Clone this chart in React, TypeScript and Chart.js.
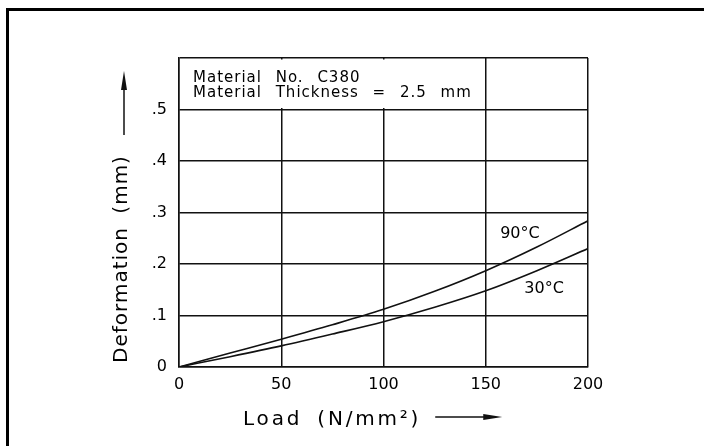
import React, { useEffect, useRef } from "react";
import { Chart, registerables } from "chart.js";

Chart.register(...registerables);

const loads = [0, 25, 50, 75, 100, 125, 150, 175, 200];
const deform90 = [0, 0.027, 0.054, 0.082, 0.112, 0.147, 0.187, 0.233, 0.284];
const deform30 = [0, 0.02, 0.041, 0.064, 0.088, 0.116, 0.148, 0.187, 0.23];
const seriesLabels = ["90°C", "30°C"];
const labelPos90 = { x: 166.7, y: 0.259 };
const labelPos30 = { x: 178.5, y: 0.151 };
const infoLines = ["Material No. C380", "Material Thickness = 2.5 mm"];
const infoBox = { x0: 0, x1: 150, y0: 0.5, y1: 0.6 };
const xTitle = "Load (N/mm²)";
const yTitle = "Deformation (mm)";

const FONT = "'DejaVu Sans', sans-serif";
const INK = "#111";

const overlay = {
  id: "overlay",
  beforeDatasetsDraw(chart: any) {
    const { ctx, scales } = chart;
    const x = scales.x, y = scales.y;
    const l = x.getPixelForValue(infoBox.x0);
    const r = x.getPixelForValue(infoBox.x1);
    const t = y.getPixelForValue(infoBox.y1);
    const b = y.getPixelForValue(infoBox.y0);
    ctx.save();
    ctx.fillStyle = "#fff";
    ctx.fillRect(l + 1.5, t + 1.5, r - l - 3, b - t - 3);
    ctx.fillStyle = "#000";
    ctx.font = `15px ${FONT}`;
    (ctx as any).letterSpacing = "1px";
    (ctx as any).wordSpacing = "8px";
    ctx.textAlign = "left";
    ctx.textBaseline = "alphabetic";
    ctx.fillText(infoLines[0], l + 14, t + 24);
    ctx.fillText(infoLines[1], l + 14, t + 39);
    ctx.restore();
  },
  afterDraw(chart: any) {
    const { ctx, scales, chartArea } = chart;
    const x = scales.x, y = scales.y;
    ctx.save();
    // outer frame
    ctx.strokeStyle = "#000";
    ctx.lineWidth = 3;
    ctx.strokeRect(7.5, 9.5, 760, 500);

    // series labels
    ctx.fillStyle = "#000";
    ctx.font = `16px ${FONT}`;
    ctx.textAlign = "center";
    ctx.textBaseline = "middle";
    ctx.fillText(seriesLabels[0], x.getPixelForValue(labelPos90.x), y.getPixelForValue(labelPos90.y));
    ctx.fillText(seriesLabels[1], x.getPixelForValue(labelPos30.x), y.getPixelForValue(labelPos30.y));

    // y title
    ctx.save();
    ctx.translate(chartArea.left - 57.5, chartArea.top + 201);
    ctx.rotate(-Math.PI / 2);
    ctx.font = `20px ${FONT}`;
    (ctx as any).letterSpacing = "1px";
    (ctx as any).wordSpacing = "6px";
    ctx.textAlign = "center";
    ctx.textBaseline = "middle";
    ctx.fillText(yTitle, 0, 0);
    ctx.restore();

    // y arrow
    const ax = chartArea.left - 55;
    ctx.strokeStyle = INK;
    ctx.fillStyle = INK;
    ctx.lineWidth = 1.5;
    ctx.beginPath();
    ctx.moveTo(ax, chartArea.top + 77);
    ctx.lineTo(ax, chartArea.top + 28);
    ctx.stroke();
    ctx.beginPath();
    ctx.moveTo(ax, chartArea.top + 13);
    ctx.lineTo(ax - 3, chartArea.top + 32);
    ctx.lineTo(ax + 3, chartArea.top + 32);
    ctx.closePath();
    ctx.fill();

    // x title
    ctx.fillStyle = "#000";
    ctx.font = `20px ${FONT}`;
    (ctx as any).letterSpacing = "2.8px";
    (ctx as any).wordSpacing = "6px";
    ctx.textAlign = "left";
    ctx.textBaseline = "alphabetic";
    const tx = chartArea.left + 64;
    const ty = chartArea.bottom + 58;
    ctx.fillText(xTitle, tx, ty);
    const w = ctx.measureText(xTitle).width;
    const ay = ty - 8;
    const a0 = tx + w + 14;
    ctx.fillStyle = INK;
    ctx.beginPath();
    ctx.moveTo(a0, ay);
    ctx.lineTo(a0 + 52, ay);
    ctx.stroke();
    ctx.beginPath();
    ctx.moveTo(a0 + 67, ay);
    ctx.lineTo(a0 + 48, ay - 3);
    ctx.lineTo(a0 + 48, ay + 3);
    ctx.closePath();
    ctx.fill();
    ctx.restore();
  },
};

export default function App() {
  const ref = useRef<HTMLCanvasElement | null>(null);
  useEffect(() => {
    if (!ref.current) return;
    const gridOpts = { color: INK, lineWidth: 1.5, drawTicks: false };
    const chart = new Chart(ref.current, {
      type: "line",
      data: {
        datasets: [
          {
            label: seriesLabels[0],
            data: loads.map((l, i) => ({ x: l, y: deform90[i] })),
            borderColor: INK,
            borderWidth: 1.6,
            pointRadius: 0,
            cubicInterpolationMode: "monotone",
            fill: false,
          },
          {
            label: seriesLabels[1],
            data: loads.map((l, i) => ({ x: l, y: deform30[i] })),
            borderColor: INK,
            borderWidth: 1.6,
            pointRadius: 0,
            cubicInterpolationMode: "monotone",
            fill: false,
          },
        ],
      },
      options: {
        animation: false,
        responsive: false,
        layout: { padding: { left: 0, top: 58, right: 116, bottom: 0 } },
        plugins: { legend: { display: false }, tooltip: { enabled: false } },
        scales: {
          x: {
            type: "linear",
            min: 0,
            max: 200,
            grid: gridOpts,
            border: { color: INK, width: 1.5 },
            ticks: {
              stepSize: 50,
              color: "#000",
              padding: 8,
              font: { family: FONT, size: 16 },
              maxRotation: 0,
            },
            afterFit(scale: any) {
              scale.height = 79;
            },
          },
          y: {
            type: "linear",
            min: 0,
            max: 0.6,
            grid: gridOpts,
            border: { color: INK, width: 1.5 },
            ticks: {
              stepSize: 0.1,
              color: "#000",
              padding: 12,
              font: { family: FONT, size: 16 },
              callback: (v: any) => {
                const n = Number(v);
                if (n === 0) return "0";
                if (n > 0.55) return "";
                return "." + Math.round(n * 10);
              },
            },
            afterFit(scale: any) {
              scale.width = 179;
            },
          },
        },
      },
      plugins: [overlay],
    } as any);
    return () => chart.destroy();
  }, []);
  return (
    <div style={{ position: "fixed", left: 0, top: 0, width: 704, height: 446, background: "#fff" }}>
      <canvas ref={ref} width={704} height={446} style={{ display: "block" }} />
    </div>
  );
}
